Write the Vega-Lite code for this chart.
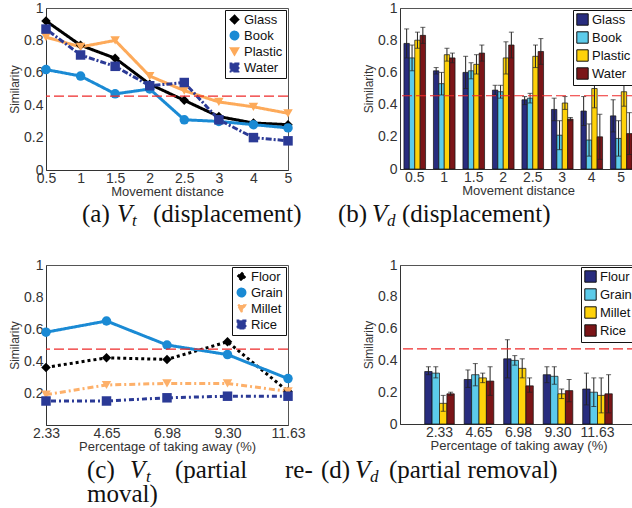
{
  "$schema": "https://vega.github.io/schema/vega-lite/v6.json",
  "background": "white",
  "padding": {"left": 8, "top": 0, "right": 0, "bottom": 0},
  "bounds": "flush",
  "columns": 2,
  "spacing": {"row": 10, "column": 112},
  "resolve": {"scale": {"x": "independent", "y": "independent", "color": "independent", "shape": "independent", "strokeDash": "independent", "xOffset": "independent"}, "legend": {"color": "independent", "shape": "independent"}},
  "config": {
    "font": "Liberation Sans",
    "view": {"stroke": "#555", "strokeWidth": 1},
    "axis": {"labelFont": "Liberation Sans", "labelFontSize": 14, "labelColor": "#333", "labelOverlap": false, "labelFlush": false, "titleFont": "Liberation Sans", "titleFontSize": 13, "titleFontWeight": "normal", "titleColor": "#333", "domainColor": "#333", "ticks": false, "grid": false, "labelPadding": 3, "titlePadding": 2},
    "axisX": {"labelPadding": 1, "titlePadding": 0},
    "axisY": {"titleFontSize": 12, "tickCount": 12},
    "legend": {"orient": "top-right", "offset": 2, "fillColor": "white", "strokeColor": "#111", "padding": 3, "labelFont": "Liberation Sans", "labelFontSize": 13, "labelColor": "#111", "rowPadding": 1, "symbolSize": 70, "labelOffset": 3, "cornerRadius": 0}
  },
  "concat": [
    {
      "width": 242,
      "height": 162,
      "data": {"values": [
        {"d": "0.5", "s": "Glass", "v": 0.92}, {"d": "1", "s": "Glass", "v": 0.77}, {"d": "1.5", "s": "Glass", "v": 0.69}, {"d": "2", "s": "Glass", "v": 0.53}, {"d": "2.5", "s": "Glass", "v": 0.43}, {"d": "3", "s": "Glass", "v": 0.33}, {"d": "4", "s": "Glass", "v": 0.29}, {"d": "5", "s": "Glass", "v": 0.28},
        {"d": "0.5", "s": "Book", "v": 0.62}, {"d": "1", "s": "Book", "v": 0.58}, {"d": "1.5", "s": "Book", "v": 0.47}, {"d": "2", "s": "Book", "v": 0.5}, {"d": "2.5", "s": "Book", "v": 0.31}, {"d": "3", "s": "Book", "v": 0.3}, {"d": "4", "s": "Book", "v": 0.28}, {"d": "5", "s": "Book", "v": 0.26},
        {"d": "0.5", "s": "Plastic", "v": 0.82}, {"d": "1", "s": "Plastic", "v": 0.76}, {"d": "1.5", "s": "Plastic", "v": 0.8}, {"d": "2", "s": "Plastic", "v": 0.58}, {"d": "2.5", "s": "Plastic", "v": 0.49}, {"d": "3", "s": "Plastic", "v": 0.42}, {"d": "4", "s": "Plastic", "v": 0.39}, {"d": "5", "s": "Plastic", "v": 0.35},
        {"d": "0.5", "s": "Water", "v": 0.87}, {"d": "1", "s": "Water", "v": 0.71}, {"d": "1.5", "s": "Water", "v": 0.64}, {"d": "2", "s": "Water", "v": 0.52}, {"d": "2.5", "s": "Water", "v": 0.54}, {"d": "3", "s": "Water", "v": 0.31}, {"d": "4", "s": "Water", "v": 0.2}, {"d": "5", "s": "Water", "v": 0.18}
      ]},
      "layer": [
        {"mark": {"type": "line", "strokeWidth": 3},
         "encoding": {
           "x": {"field": "d", "type": "ordinal", "sort": null, "scale": {"type": "point", "padding": 0}, "axis": {"title": "Movement distance", "labelAngle": 0}},
           "y": {"field": "v", "type": "quantitative", "scale": {"domain": [0, 1]}, "axis": {"title": "Similarity", "values": [0, 0.2, 0.4, 0.6, 0.8, 1], "tickCount": 12, "format": "~g"}},
           "color": {"field": "s", "type": "nominal", "sort": null, "scale": {"domain": ["Glass", "Book", "Plastic", "Water"], "range": ["#000000", "#1a8ad4", "#fdaa5a", "#2b3a96"]}, "legend": {"title": null}},
           "strokeDash": {"field": "s", "type": "nominal", "sort": null, "scale": {"domain": ["Glass", "Book", "Plastic", "Water"], "range": [[1, 0], [1, 0], [1, 0], [2, 2, 6, 2]]}, "legend": null}
         }},
        {"mark": {"type": "point", "filled": true, "size": 90, "opacity": 1},
         "encoding": {
           "x": {"field": "d", "type": "ordinal", "sort": null},
           "y": {"field": "v", "type": "quantitative"},
           "color": {"field": "s", "type": "nominal", "sort": null, "legend": {"title": null}},
           "shape": {"field": "s", "type": "nominal", "sort": null, "scale": {"domain": ["Glass", "Book", "Plastic", "Water"], "range": ["diamond", "circle", "triangle-down", "square"]}, "legend": {"title": null}}
         }},
        {"data": {"values": [{"t": 0.456}]}, "mark": {"type": "rule", "color": "#ee2a2a", "strokeDash": [10, 4], "strokeWidth": 1.2}, "encoding": {"y": {"field": "t", "type": "quantitative"}}}
      ]
    },
    {
      "width": 236,
      "height": 161,
      "data": {"values": [
        {"d": "0.5", "s": "Glass", "v": 0.78, "lo": 0.69, "hi": 0.87}, {"d": "0.5", "s": "Book", "v": 0.69, "lo": 0.61, "hi": 0.77}, {"d": "0.5", "s": "Plastic", "v": 0.8, "lo": 0.75, "hi": 0.85}, {"d": "0.5", "s": "Water", "v": 0.83, "lo": 0.78, "hi": 0.88},
        {"d": "1", "s": "Glass", "v": 0.61, "lo": 0.59, "hi": 0.63}, {"d": "1", "s": "Book", "v": 0.53, "lo": 0.46, "hi": 0.6}, {"d": "1", "s": "Plastic", "v": 0.71, "lo": 0.67, "hi": 0.75}, {"d": "1", "s": "Water", "v": 0.69, "lo": 0.66, "hi": 0.72},
        {"d": "1.5", "s": "Glass", "v": 0.6, "lo": 0.5, "hi": 0.7}, {"d": "1.5", "s": "Book", "v": 0.61, "lo": 0.56, "hi": 0.66}, {"d": "1.5", "s": "Plastic", "v": 0.65, "lo": 0.59, "hi": 0.71}, {"d": "1.5", "s": "Water", "v": 0.72, "lo": 0.67, "hi": 0.77},
        {"d": "2", "s": "Glass", "v": 0.49, "lo": 0.46, "hi": 0.52}, {"d": "2", "s": "Book", "v": 0.48, "lo": 0.44, "hi": 0.52}, {"d": "2", "s": "Plastic", "v": 0.69, "lo": 0.59, "hi": 0.79}, {"d": "2", "s": "Water", "v": 0.77, "lo": 0.69, "hi": 0.85},
        {"d": "2.5", "s": "Glass", "v": 0.43, "lo": 0.4, "hi": 0.45}, {"d": "2.5", "s": "Book", "v": 0.44, "lo": 0.41, "hi": 0.47}, {"d": "2.5", "s": "Plastic", "v": 0.7, "lo": 0.63, "hi": 0.77}, {"d": "2.5", "s": "Water", "v": 0.73, "lo": 0.65, "hi": 0.81},
        {"d": "3", "s": "Glass", "v": 0.37, "lo": 0.3, "hi": 0.44}, {"d": "3", "s": "Book", "v": 0.21, "lo": 0.12, "hi": 0.3}, {"d": "3", "s": "Plastic", "v": 0.41, "lo": 0.37, "hi": 0.45}, {"d": "3", "s": "Water", "v": 0.31, "lo": 0.3, "hi": 0.32},
        {"d": "4", "s": "Glass", "v": 0.36, "lo": 0.27, "hi": 0.45}, {"d": "4", "s": "Book", "v": 0.18, "lo": 0.08, "hi": 0.28}, {"d": "4", "s": "Plastic", "v": 0.5, "lo": 0.38, "hi": 0.62}, {"d": "4", "s": "Water", "v": 0.2, "lo": 0.06, "hi": 0.34},
        {"d": "5", "s": "Glass", "v": 0.33, "lo": 0.23, "hi": 0.43}, {"d": "5", "s": "Book", "v": 0.19, "lo": 0.08, "hi": 0.3}, {"d": "5", "s": "Plastic", "v": 0.48, "lo": 0.39, "hi": 0.57}, {"d": "5", "s": "Water", "v": 0.22, "lo": 0.09, "hi": 0.35}
      ]},
      "layer": [
        {"mark": {"type": "bar", "stroke": "#111", "strokeWidth": 0.7},
         "encoding": {
           "x": {"field": "d", "type": "nominal", "sort": null, "scale": {"paddingInner": 0, "paddingOuter": 0}, "axis": {"title": "Movement distance", "labelAngle": 0}},
           "xOffset": {"field": "s", "type": "nominal", "sort": null, "scale": {"domain": ["Glass", "Book", "Plastic", "Water"], "paddingInner": 0, "paddingOuter": 0.73}},
           "y": {"field": "v", "type": "quantitative", "scale": {"domain": [0, 1]}, "axis": {"title": "Similarity", "values": [0, 0.2, 0.4, 0.6, 0.8, 1], "tickCount": 12, "format": "~g"}},
           "color": {"field": "s", "type": "nominal", "sort": null, "scale": {"domain": ["Glass", "Book", "Plastic", "Water"], "range": ["#282c7e", "#5ccbea", "#ffd20a", "#7b1518"]}, "legend": {"title": null, "symbolType": "square", "symbolSize": 130, "symbolStrokeColor": "#111", "symbolStrokeWidth": 1, "rowPadding": 1}}
         }},
        {"mark": {"type": "rule", "color": "#222", "strokeWidth": 1},
         "encoding": {
           "x": {"field": "d", "type": "nominal", "sort": null},
           "xOffset": {"field": "s", "type": "nominal", "sort": null},
           "y": {"field": "lo", "type": "quantitative"},
           "y2": {"field": "hi"}
         }},
        {"mark": {"type": "tick", "color": "#222", "thickness": 1, "size": 5},
         "encoding": {
           "x": {"field": "d", "type": "nominal", "sort": null},
           "xOffset": {"field": "s", "type": "nominal", "sort": null},
           "y": {"field": "hi", "type": "quantitative"}
         }},
        {"mark": {"type": "tick", "color": "#222", "thickness": 1, "size": 5},
         "encoding": {
           "x": {"field": "d", "type": "nominal", "sort": null},
           "xOffset": {"field": "s", "type": "nominal", "sort": null},
           "y": {"field": "lo", "type": "quantitative"}
         }},
        {"data": {"values": [{"t": 0.455}]}, "mark": {"type": "rule", "color": "#ee2a2a", "strokeDash": [10, 4], "strokeWidth": 1.2}, "encoding": {"y": {"field": "t", "type": "quantitative"}}}
      ]
    },
    {
      "width": 242,
      "height": 75,
      "view": {"stroke": null},
      "data": {"values": [{}]},
      "layer": [
        {"mark": {"type": "text", "text": "(a)", "align": "left", "baseline": "alphabetic", "font": "Liberation Serif", "fontSize": 25, "color": "#111"},
         "encoding": {"x": {"datum": 36, "type": "quantitative", "scale": {"domain": [0, 500], "range": [0, 500]}, "axis": null}, "y": {"datum": 42, "type": "quantitative", "scale": {"domain": [0, 100], "range": [0, 100]}, "axis": null}}},
        {"mark": {"type": "text", "text": "V", "align": "left", "baseline": "alphabetic", "font": "Liberation Serif", "fontStyle": "italic", "fontSize": 25, "color": "#111"},
         "encoding": {"x": {"datum": 71, "type": "quantitative"}, "y": {"datum": 42, "type": "quantitative"}}},
        {"mark": {"type": "text", "text": "t", "align": "left", "baseline": "alphabetic", "font": "Liberation Serif", "fontStyle": "italic", "fontSize": 17, "color": "#111"},
         "encoding": {"x": {"datum": 86, "type": "quantitative"}, "y": {"datum": 46, "type": "quantitative"}}},
        {"mark": {"type": "text", "text": "(displacement)", "align": "left", "baseline": "alphabetic", "font": "Liberation Serif", "fontSize": 25, "color": "#111"},
         "encoding": {"x": {"datum": 107, "type": "quantitative"}, "y": {"datum": 42, "type": "quantitative"}}}
      ]
    },
    {
      "width": 236,
      "height": 75,
      "view": {"stroke": null},
      "data": {"values": [{}]},
      "layer": [
        {"mark": {"type": "text", "text": "(b)", "align": "left", "baseline": "alphabetic", "font": "Liberation Serif", "fontSize": 25, "color": "#111"},
         "encoding": {"x": {"datum": -62, "type": "quantitative", "scale": {"domain": [0, 500], "range": [0, 500]}, "axis": null}, "y": {"datum": 42, "type": "quantitative", "scale": {"domain": [0, 100], "range": [0, 100]}, "axis": null}}},
        {"mark": {"type": "text", "text": "V", "align": "left", "baseline": "alphabetic", "font": "Liberation Serif", "fontStyle": "italic", "fontSize": 25, "color": "#111"},
         "encoding": {"x": {"datum": -28, "type": "quantitative"}, "y": {"datum": 42, "type": "quantitative"}}},
        {"mark": {"type": "text", "text": "d", "align": "left", "baseline": "alphabetic", "font": "Liberation Serif", "fontStyle": "italic", "fontSize": 17, "color": "#111"},
         "encoding": {"x": {"datum": -13, "type": "quantitative"}, "y": {"datum": 46, "type": "quantitative"}}},
        {"mark": {"type": "text", "text": "(displacement)", "align": "left", "baseline": "alphabetic", "font": "Liberation Serif", "fontSize": 25, "color": "#111"},
         "encoding": {"x": {"datum": 2, "type": "quantitative"}, "y": {"datum": 42, "type": "quantitative"}}}
      ]
    },
    {
      "width": 242,
      "height": 160,
      "data": {"values": [
        {"d": "2.33", "s": "Floor", "v": 0.36}, {"d": "4.65", "s": "Floor", "v": 0.42}, {"d": "6.98", "s": "Floor", "v": 0.41}, {"d": "9.30", "s": "Floor", "v": 0.52}, {"d": "11.63", "s": "Floor", "v": 0.21},
        {"d": "2.33", "s": "Grain", "v": 0.58}, {"d": "4.65", "s": "Grain", "v": 0.65}, {"d": "6.98", "s": "Grain", "v": 0.5}, {"d": "9.30", "s": "Grain", "v": 0.44}, {"d": "11.63", "s": "Grain", "v": 0.29},
        {"d": "2.33", "s": "Millet", "v": 0.19}, {"d": "4.65", "s": "Millet", "v": 0.25}, {"d": "6.98", "s": "Millet", "v": 0.26}, {"d": "9.30", "s": "Millet", "v": 0.26}, {"d": "11.63", "s": "Millet", "v": 0.21},
        {"d": "2.33", "s": "Rice", "v": 0.15}, {"d": "4.65", "s": "Rice", "v": 0.15}, {"d": "6.98", "s": "Rice", "v": 0.17}, {"d": "9.30", "s": "Rice", "v": 0.18}, {"d": "11.63", "s": "Rice", "v": 0.18}
      ]},
      "layer": [
        {"mark": {"type": "line", "strokeWidth": 3},
         "encoding": {
           "x": {"field": "d", "type": "ordinal", "sort": null, "scale": {"type": "point", "padding": 0}, "axis": {"title": "Percentage of taking away (%)", "labelAngle": 0}},
           "y": {"field": "v", "type": "quantitative", "scale": {"domain": [0, 1]}, "axis": {"title": "Similarity", "values": [0.2, 0.4, 0.6, 0.8, 1], "tickCount": 12, "format": "~g"}},
           "color": {"field": "s", "type": "nominal", "sort": null, "scale": {"domain": ["Floor", "Grain", "Millet", "Rice"], "range": ["#000000", "#1a8ad4", "#fdb06a", "#2b3a96"]}, "legend": {"title": null}},
           "strokeDash": {"field": "s", "type": "nominal", "sort": null, "scale": {"domain": ["Floor", "Grain", "Millet", "Rice"], "range": [[3, 3], [1, 0], [6, 3, 2, 3], [2, 3, 5, 3]]}, "legend": null}
         }},
        {"mark": {"type": "point", "filled": true, "size": 90, "opacity": 1},
         "encoding": {
           "x": {"field": "d", "type": "ordinal", "sort": null},
           "y": {"field": "v", "type": "quantitative"},
           "color": {"field": "s", "type": "nominal", "sort": null, "legend": {"title": null}},
           "shape": {"field": "s", "type": "nominal", "sort": null, "scale": {"domain": ["Floor", "Grain", "Millet", "Rice"], "range": ["diamond", "circle", "triangle-down", "square"]}, "legend": {"title": null}}
         }},
        {"data": {"values": [{"t": 0.474}]}, "mark": {"type": "rule", "color": "#ee2a2a", "strokeDash": [10, 4], "strokeWidth": 1.2}, "encoding": {"y": {"field": "t", "type": "quantitative"}}}
      ]
    },
    {
      "width": 237,
      "height": 159,
      "data": {"values": [
        {"d": "2.33", "s": "Flour", "v": 0.33, "lo": 0.31, "hi": 0.36}, {"d": "2.33", "s": "Grain", "v": 0.32, "lo": 0.29, "hi": 0.36}, {"d": "2.33", "s": "Millet", "v": 0.13, "lo": 0.08, "hi": 0.18}, {"d": "2.33", "s": "Rice", "v": 0.19, "lo": 0.18, "hi": 0.2},
        {"d": "4.65", "s": "Flour", "v": 0.28, "lo": 0.23, "hi": 0.34}, {"d": "4.65", "s": "Grain", "v": 0.31, "lo": 0.24, "hi": 0.38}, {"d": "4.65", "s": "Millet", "v": 0.29, "lo": 0.26, "hi": 0.32}, {"d": "4.65", "s": "Rice", "v": 0.27, "lo": 0.18, "hi": 0.36},
        {"d": "6.98", "s": "Flour", "v": 0.41, "lo": 0.29, "hi": 0.53}, {"d": "6.98", "s": "Grain", "v": 0.4, "lo": 0.37, "hi": 0.43}, {"d": "6.98", "s": "Millet", "v": 0.35, "lo": 0.29, "hi": 0.41}, {"d": "6.98", "s": "Rice", "v": 0.24, "lo": 0.2, "hi": 0.29},
        {"d": "9.30", "s": "Flour", "v": 0.31, "lo": 0.26, "hi": 0.36}, {"d": "9.30", "s": "Grain", "v": 0.3, "lo": 0.25, "hi": 0.36}, {"d": "9.30", "s": "Millet", "v": 0.19, "lo": 0.16, "hi": 0.22}, {"d": "9.30", "s": "Rice", "v": 0.21, "lo": 0.14, "hi": 0.28},
        {"d": "11.63", "s": "Flour", "v": 0.22, "lo": 0.12, "hi": 0.32}, {"d": "11.63", "s": "Grain", "v": 0.2, "lo": 0.11, "hi": 0.29}, {"d": "11.63", "s": "Millet", "v": 0.18, "lo": 0.07, "hi": 0.29}, {"d": "11.63", "s": "Rice", "v": 0.19, "lo": 0.07, "hi": 0.31}
      ]},
      "layer": [
        {"mark": {"type": "bar", "stroke": "#111", "strokeWidth": 0.7},
         "encoding": {
           "x": {"field": "d", "type": "nominal", "sort": null, "scale": {"paddingInner": 0, "paddingOuter": 0.5}, "axis": {"title": "Percentage of taking away (%)", "labelAngle": 0}},
           "xOffset": {"field": "s", "type": "nominal", "sort": null, "scale": {"domain": ["Flour", "Grain", "Millet", "Rice"], "paddingInner": 0, "paddingOuter": 0.667}},
           "y": {"field": "v", "type": "quantitative", "scale": {"domain": [0, 1]}, "axis": {"title": "Similarity", "values": [0, 0.2, 0.4, 0.6, 0.8, 1], "tickCount": 12, "format": "~g"}},
           "color": {"field": "s", "type": "nominal", "sort": null, "scale": {"domain": ["Flour", "Grain", "Millet", "Rice"], "range": ["#282c7e", "#5ccbea", "#ffd20a", "#7b1518"]}, "legend": {"title": null, "symbolType": "square", "symbolSize": 130, "symbolStrokeColor": "#111", "symbolStrokeWidth": 1, "rowPadding": 1}}
         }},
        {"mark": {"type": "rule", "color": "#222", "strokeWidth": 1},
         "encoding": {
           "x": {"field": "d", "type": "nominal", "sort": null},
           "xOffset": {"field": "s", "type": "nominal", "sort": null},
           "y": {"field": "lo", "type": "quantitative"},
           "y2": {"field": "hi"}
         }},
        {"mark": {"type": "tick", "color": "#222", "thickness": 1, "size": 5},
         "encoding": {
           "x": {"field": "d", "type": "nominal", "sort": null},
           "xOffset": {"field": "s", "type": "nominal", "sort": null},
           "y": {"field": "hi", "type": "quantitative"}
         }},
        {"mark": {"type": "tick", "color": "#222", "thickness": 1, "size": 5},
         "encoding": {
           "x": {"field": "d", "type": "nominal", "sort": null},
           "xOffset": {"field": "s", "type": "nominal", "sort": null},
           "y": {"field": "lo", "type": "quantitative"}
         }},
        {"data": {"values": [{"t": 0.473}]}, "mark": {"type": "rule", "color": "#ee2a2a", "strokeDash": [10, 4], "strokeWidth": 1.2}, "encoding": {"y": {"field": "t", "type": "quantitative"}}}
      ]
    },
    {
      "width": 242,
      "height": 72,
      "view": {"stroke": null},
      "data": {"values": [{}]},
      "layer": [
        {"mark": {"type": "text", "text": "(c)", "align": "left", "baseline": "alphabetic", "font": "Liberation Serif", "fontSize": 25, "color": "#111"},
         "encoding": {"x": {"datum": 41, "type": "quantitative", "scale": {"domain": [0, 500], "range": [0, 500]}, "axis": null}, "y": {"datum": 43, "type": "quantitative", "scale": {"domain": [0, 100], "range": [0, 100]}, "axis": null}}},
        {"mark": {"type": "text", "text": "V", "align": "left", "baseline": "alphabetic", "font": "Liberation Serif", "fontStyle": "italic", "fontSize": 25, "color": "#111"},
         "encoding": {"x": {"datum": 84, "type": "quantitative"}, "y": {"datum": 43, "type": "quantitative"}}},
        {"mark": {"type": "text", "text": "t", "align": "left", "baseline": "alphabetic", "font": "Liberation Serif", "fontStyle": "italic", "fontSize": 17, "color": "#111"},
         "encoding": {"x": {"datum": 100, "type": "quantitative"}, "y": {"datum": 47, "type": "quantitative"}}},
        {"mark": {"type": "text", "text": "(partial", "align": "left", "baseline": "alphabetic", "font": "Liberation Serif", "fontSize": 25, "color": "#111"},
         "encoding": {"x": {"datum": 129, "type": "quantitative"}, "y": {"datum": 43, "type": "quantitative"}}},
        {"mark": {"type": "text", "text": "re-", "align": "left", "baseline": "alphabetic", "font": "Liberation Serif", "fontSize": 25, "color": "#111"},
         "encoding": {"x": {"datum": 239, "type": "quantitative"}, "y": {"datum": 43, "type": "quantitative"}}},
        {"mark": {"type": "text", "text": "moval)", "align": "left", "baseline": "alphabetic", "font": "Liberation Serif", "fontSize": 25, "color": "#111"},
         "encoding": {"x": {"datum": 41, "type": "quantitative"}, "y": {"datum": 67, "type": "quantitative"}}}
      ]
    },
    {
      "width": 237,
      "height": 72,
      "view": {"stroke": null},
      "data": {"values": [{}]},
      "layer": [
        {"mark": {"type": "text", "text": "(d)", "align": "left", "baseline": "alphabetic", "font": "Liberation Serif", "fontSize": 25, "color": "#111"},
         "encoding": {"x": {"datum": -79, "type": "quantitative", "scale": {"domain": [0, 500], "range": [0, 500]}, "axis": null}, "y": {"datum": 43, "type": "quantitative", "scale": {"domain": [0, 100], "range": [0, 100]}, "axis": null}}},
        {"mark": {"type": "text", "text": "V", "align": "left", "baseline": "alphabetic", "font": "Liberation Serif", "fontStyle": "italic", "fontSize": 25, "color": "#111"},
         "encoding": {"x": {"datum": -45, "type": "quantitative"}, "y": {"datum": 43, "type": "quantitative"}}},
        {"mark": {"type": "text", "text": "d", "align": "left", "baseline": "alphabetic", "font": "Liberation Serif", "fontStyle": "italic", "fontSize": 17, "color": "#111"},
         "encoding": {"x": {"datum": -30, "type": "quantitative"}, "y": {"datum": 47, "type": "quantitative"}}},
        {"mark": {"type": "text", "text": "(partial removal)", "align": "left", "baseline": "alphabetic", "font": "Liberation Serif", "fontSize": 25, "color": "#111"},
         "encoding": {"x": {"datum": -11, "type": "quantitative"}, "y": {"datum": 43, "type": "quantitative"}}}
      ]
    }
  ]
}
